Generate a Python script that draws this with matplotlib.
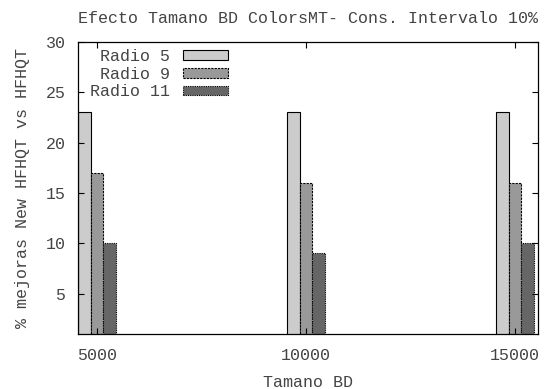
import matplotlib
matplotlib.use("Agg")
import matplotlib.pyplot as plt
import numpy as np

plt.rcParams['font.family'] = ['Liberation Mono', 'DejaVu Sans Mono']
plt.rcParams['font.size'] = 12

# data
sizes = [5000, 10000, 15000]
series = ["Radio 5", "Radio 9", "Radio 11"]
radio5 = [23, 23, 23]
radio9 = [17, 16, 16]
radio11 = [10, 9, 10]
yticks = [5, 10, 15, 20, 25, 30]

fills = ['#cccccc', '#999999', '#666666']
styles = ['solid', (0, (2, 1)), (0, (1, 1))]

fig = plt.figure(figsize=(5.48, 3.89), dpi=100)
ax = fig.add_axes([78 / 548, 55 / 389, 460 / 548, 292 / 389])

x = np.array(sizes, dtype=float)
width = 300
for i, (vals, lab) in enumerate(zip([radio5, radio9, radio11], series)):
    ax.bar(x + (i - 1) * width, vals, width, color=fills[i], edgecolor='black',
           linewidth=0.8, linestyle=styles[i], label=lab.rjust(8))

ax.set_xlim(4550, 15550)
ax.set_ylim(1, 30)
ax.set_xticks(sizes)
ax.set_yticks(yticks)
ax.tick_params(direction='in', top=True, right=True, length=4, width=0.8,
               labelcolor='#444444')
ax.tick_params(axis='x', pad=10)
ax.tick_params(axis='y', pad=9)
for s in ax.spines.values():
    s.set_linewidth(0.9)

ax.set_title("Efecto Tamano BD ColorsMT- Cons. Intervalo 10%", color='#444444',
             fontsize=12, pad=14)
ax.set_xlabel("Tamano BD", color='#444444', labelpad=9)
ax.set_ylabel("% mejoras New HFHQT vs HFHQT", color='#444444', labelpad=11)

leg = ax.legend(loc='upper left', bbox_to_anchor=(0.017, 0.99), frameon=False,
                markerfirst=False, handlelength=2.7, handleheight=0.5,
                labelspacing=0.16, handletextpad=0.8, borderaxespad=0.0,
                borderpad=0.25)
for t in leg.get_texts():
    t.set_color('#444444')

fig.savefig('out.png', dpi=100)
